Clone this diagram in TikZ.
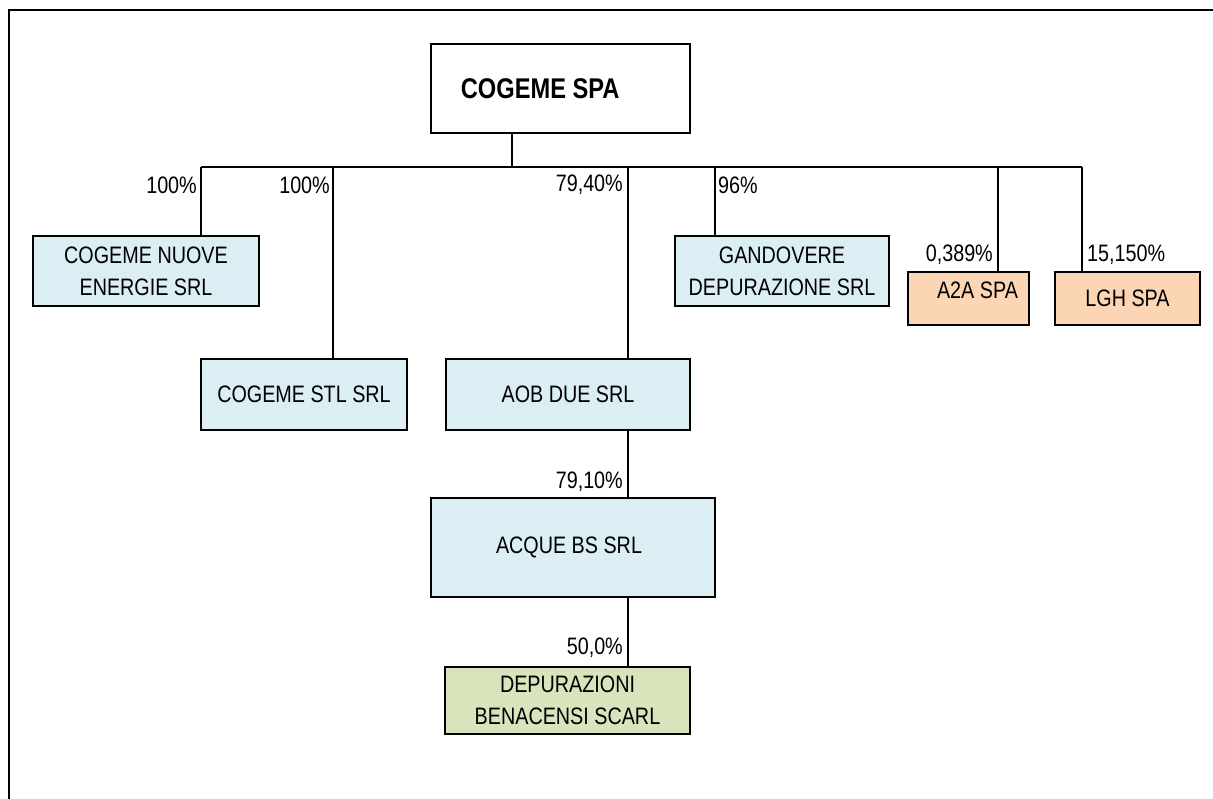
\documentclass[tikz,border=0pt]{standalone}
\usepackage{fontspec}
\setmainfont{Liberation Sans}[FakeStretch=0.83]
\definecolor{lblue}{HTML}{DAEEF3}
\definecolor{peach}{HTML}{FCD5B4}
\definecolor{lgreen}{HTML}{D8E4BC}
\tikzset{
  box/.style={draw=black, line width=2.6pt, rectangle, inner sep=0pt, align=center,
    font=\fontsize{23.8}{32}\selectfont},
  conn/.style={draw=black, line width=1.6pt},
  frame/.style={draw=black, line width=2.6pt},
  pct/.style={inner sep=0pt, font=\fontsize{23.8}{28}\selectfont},
}
\begin{document}
\begin{tikzpicture}[x=1pt,y=-1pt]
\useasboundingbox (0,0) rectangle (1213,799);
\fill[white] (0,0) rectangle (1213,799);
\draw[frame] (1220,10) -- (9,10) -- (9,810);

% boxes
\node[box, fill=white, minimum width=259pt, minimum height=89pt] (cs) at (560.5,88.5) {};
\node[inner sep=0pt, anchor=west, font=\fontsize{28.5}{32}\selectfont\bfseries] (cst) at (cs.west) [xshift=31pt] {COGEME SPA};

\node[box, fill=lblue, minimum width=226pt, minimum height=70pt] (cne) at (146,271) {COGEME NUOVE\\ENERGIE SRL};
\node[box, fill=lblue, minimum width=206pt, minimum height=71pt] (stl) at (304,394.5) {COGEME STL SRL};
\node[box, fill=lblue, minimum width=244pt, minimum height=71pt] (aob) at (568,394.5) {AOB DUE SRL};
\node[box, fill=lblue, minimum width=214pt, minimum height=70pt] (gan) at (782,271) {GANDOVERE\\DEPURAZIONE SRL};
\node[box, fill=peach, minimum width=121pt, minimum height=53pt] (a2a) at (968.5,298.5) {};
\node[inner sep=0pt, font=\fontsize{23.8}{28}\selectfont] (a2at) at (a2a.center) [xshift=9pt, yshift=8pt] {A2A SPA};
\node[box, fill=peach, minimum width=145pt, minimum height=53pt] (lgh) at (1127.5,298.5) {LGH SPA};
\node[box, fill=lblue, minimum width=284pt, minimum height=99pt] (acq) at (573,547.5) {\hspace*{-8pt}ACQUE BS SRL};
\node[box, fill=lgreen, minimum width=245pt, minimum height=67pt] (dep) at (567.5,700.5) {DEPURAZIONI\\BENACENSI SCARL};

% bus coordinates
\coordinate (s0) at (512,167);
\coordinate (b1) at (201,167);
\coordinate (b2) at (333,167);
\coordinate (b3) at (628,167);
\coordinate (b4) at (715,167);
\coordinate (b5) at (998,167);
\coordinate (b6) at (1082,167);

\draw[conn] (s0 |- cs.south) -- (s0);
\draw[conn] (b1) -- (b6);
\draw[conn] (b1) -- (b1 |- cne.north);
\draw[conn] (b2) -- (b2 |- stl.north);
\draw[conn] (b3) -- (b3 |- aob.north);
\draw[conn] (b4) -- (b4 |- gan.north);
\draw[conn] (b5) -- (b5 |- a2a.north);
\draw[conn] (b6) -- (b6 |- lgh.north);
\draw[conn] (b3 |- aob.south) -- (b3 |- acq.north);
\draw[conn] (b3 |- acq.south) -- (b3 |- dep.north);

% percentages
\node[pct, anchor=east] (p1) at (197,185) {100\%};
\node[pct, anchor=east] (p2) at (330,185) {100\%};
\node[pct, anchor=east] (p3) at (623,185) {79,40\%};
\node[pct, anchor=west] (p4) at (718,185) {96\%};
\node[pct, anchor=east] (p5) at (993,255) {0,389\%};
\node[pct, anchor=west] (p6) at (1087,255) {15,150\%};
\node[pct, anchor=east] (p7) at (623,482) {79,10\%};
\node[pct, anchor=east] (p8) at (623,648) {50,0\%};
\end{tikzpicture}
\end{document}
